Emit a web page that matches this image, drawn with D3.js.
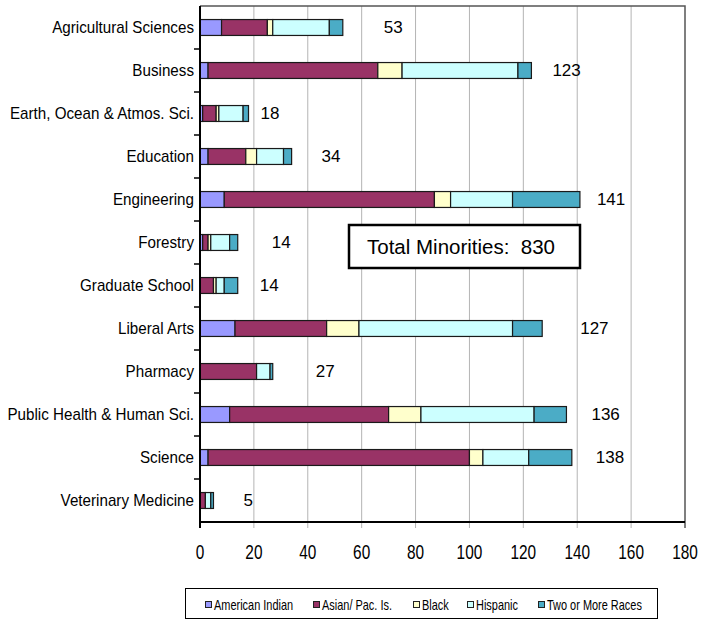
<!DOCTYPE html>
<html>
<head>
<meta charset="utf-8">
<script src="https://cdn.jsdelivr.net/npm/d3@7"></script>
<style>
  body { margin: 0; background: #fff; }
  svg { display: block; font-family: "Liberation Sans", Arial, sans-serif; }
</style>
</head>
<body>
<div id="chart"></div>
<script>
const layout = {
    width: 701,
    height: 620,
    left: 200,
    right: 685,
    top: 6,
    bottom: 522
};

// categories, top to bottom
const colleges = ["Agricultural Sciences", "Business", "Earth, Ocean & Atmos. Sci.", "Education",
    "Engineering", "Forestry", "Graduate School", "Liberal Arts", "Pharmacy",
    "Public Health & Human Sci.", "Science", "Veterinary Medicine"];

const groups = ["American Indian", "Asian/ Pac. Is.", "Black", "Hispanic", "Two or More Races"];
const groupColors = ["#9999ff", "#993366", "#ffffcc", "#ccffff", "#4bacc6"];

// series values, one entry per college
const americanIndian = [8, 3, 1, 3, 9, 1, 0, 13, 0, 11, 3, 0];
const asianPacIs     = [17, 63, 5, 14, 78, 2, 5, 34, 21, 59, 97, 2];
const black          = [2, 9, 1, 4, 6, 1, 1, 12, 0, 12, 5, 0];
const hispanic       = [21, 43, 9, 10, 23, 7, 3, 57, 5, 42, 17, 2];
const twoOrMore      = [5, 5, 2, 3, 25, 3, 5, 11, 1, 12, 16, 1];

const xTicks = [0, 20, 40, 60, 80, 100, 120, 140, 160, 180];
const totalLabel = "Total Minorities:  830";

// pixel gap between each bar end and its total label (hand placed in the original)
const labelGap = [41, 21, 12, 30, 17, 34, 22, 38, 43, 25, 24, 30];

const series = [americanIndian, asianPacIs, black, hispanic, twoOrMore];
const rows = colleges.map((c, i) => {
    let row = { college: c };
    groups.forEach((g, j) => row[g] = series[j][i]);
    row.total = d3.sum(series, s => s[i]);
    return row;
});

const stacked = d3.stack().keys(groups)(rows);

const x = d3.scaleLinear().domain([0, 180]).range([layout.left, layout.right]);
const y = d3.scaleBand().domain(colleges).range([layout.top, layout.bottom])
    .paddingInner(0.63).paddingOuter(0.315);

const svg = d3.select("#chart").append("svg")
    .attr("width", layout.width)
    .attr("height", layout.height);

// vertical gridlines (run a bit below the axis as ticks)
svg.append("g").selectAll("line").data(xTicks.slice(1, -1)).join("line")
    .attr("x1", d => x(d)).attr("x2", d => x(d))
    .attr("y1", layout.top).attr("y2", layout.bottom + 6)
    .attr("stroke", "#b4b4b4").attr("stroke-width", 1);

// top and right frame
svg.append("path")
    .attr("d", `M${layout.left},${layout.top}H${layout.right}V${layout.bottom + 6}`)
    .attr("fill", "none").attr("stroke", "#555").attr("stroke-width", 1.5);

// stacked bars
svg.append("g").selectAll("g").data(stacked).join("g")
    .attr("fill", (d, i) => groupColors[i])
    .selectAll("rect").data(d => d).join("rect")
    .attr("x", d => x(d[0]))
    .attr("y", d => y(d.data.college))
    .attr("width", d => x(d[1]) - x(d[0]))
    .attr("height", y.bandwidth())
    .attr("stroke", "#1a1a1a")
    .attr("stroke-width", 1.2);

// axes
svg.append("line")
    .attr("x1", layout.left).attr("x2", layout.right)
    .attr("y1", layout.bottom).attr("y2", layout.bottom)
    .attr("stroke", "#000").attr("stroke-width", 2);
svg.append("line")
    .attr("x1", layout.left).attr("x2", layout.left)
    .attr("y1", layout.top).attr("y2", layout.bottom + 6)
    .attr("stroke", "#000").attr("stroke-width", 2);

// y ticks at band boundaries
svg.append("g").selectAll("line").data(d3.range(1, colleges.length)).join("line")
    .attr("x1", layout.left - 6).attr("x2", layout.left)
    .attr("y1", d => layout.top + d * y.step()).attr("y2", d => layout.top + d * y.step())
    .attr("stroke", "#000").attr("stroke-width", 1.5);

// x tick labels
svg.append("g").selectAll("text").data(xTicks).join("text")
    .attr("transform", d => `translate(${x(d)},552) scale(0.77,1)`)
    .attr("text-anchor", "middle")
    .attr("dominant-baseline", "central")
    .attr("font-size", 20)
    .text(d => d);

// category labels
svg.append("g").selectAll("text").data(colleges).join("text")
    .attr("transform", d => `translate(194,${y(d) + y.bandwidth() / 2}) scale(0.95,1)`)
    .attr("text-anchor", "end")
    .attr("dominant-baseline", "central")
    .attr("font-size", 16)
    .text(d => d);

// totals
svg.append("g").selectAll("text").data(rows).join("text")
    .attr("x", (d, i) => x(d.total) + labelGap[i])
    .attr("y", d => y(d.college) + y.bandwidth() / 2)
    .attr("dominant-baseline", "central")
    .attr("font-size", 17)
    .text(d => d.total);

// total minorities box
svg.append("rect")
    .attr("x", 349).attr("y", 225).attr("width", 231).attr("height", 43)
    .attr("fill", "#fff").attr("stroke", "#000").attr("stroke-width", 2.5);
svg.append("text")
    .attr("x", 367).attr("y", 246)
    .attr("dominant-baseline", "central")
    .attr("font-size", 20.5)
    .style("white-space", "pre")
    .text(totalLabel);

// legend
const legendX = [205, 313, 413, 467, 538];
svg.append("rect")
    .attr("x", 185.5).attr("y", 588.5).attr("width", 472).attr("height", 30)
    .attr("fill", "#fff").attr("stroke", "#000").attr("stroke-width", 1);
const legend = svg.append("g").selectAll("g").data(groups).join("g")
    .attr("transform", (d, i) => `translate(${legendX[i]},605)`);
legend.append("rect")
    .attr("x", 0.5).attr("y", -3.5).attr("width", 6).attr("height", 6)
    .attr("fill", (d, i) => groupColors[i])
    .attr("stroke", "#222").attr("stroke-width", 1);
legend.append("text")
    .attr("transform", "translate(9,0) scale(0.73,1)")
    .attr("dominant-baseline", "central")
    .attr("font-size", 15)
    .text(d => d);
</script>
</body>
</html>
